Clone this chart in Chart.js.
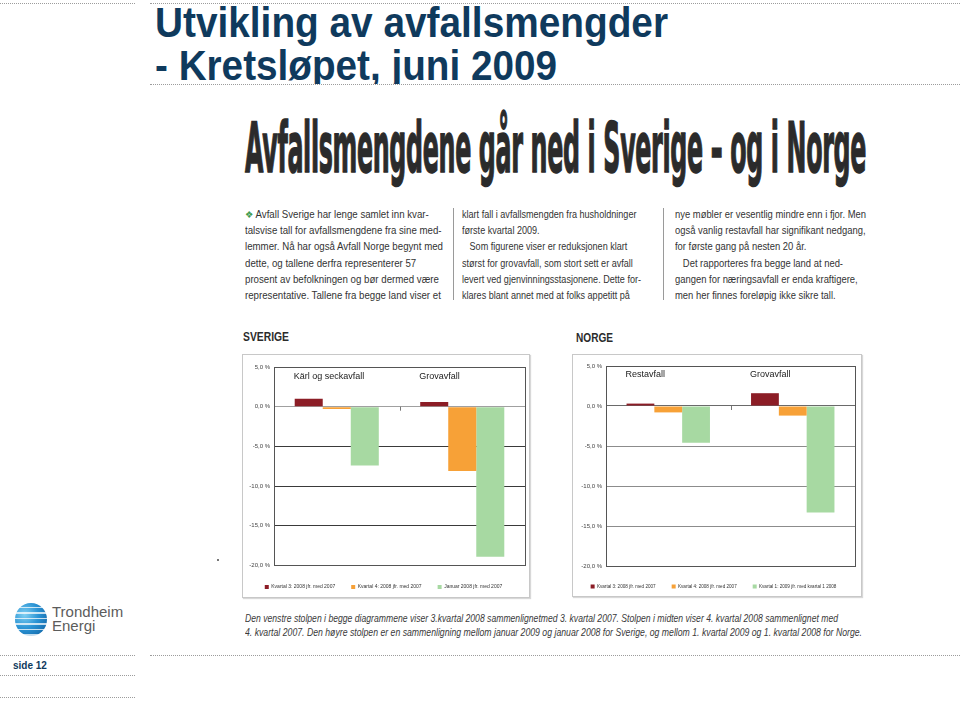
<!DOCTYPE html>
<html lang="no">
<head>
<meta charset="utf-8">
<title>Utvikling av avfallsmengder</title>
<script src="https://cdn.jsdelivr.net/npm/chart.js@4.4.1/dist/chart.umd.min.js"></script>
<style>
  html, body { margin: 0; padding: 0; background: #fff; }
  body { width: 960px; height: 707px; position: relative; overflow: hidden; font-family: "Liberation Sans", Arial, sans-serif; }
  .abs { position: absolute; }
  .dot { position: absolute; height: 0; border-top: 1px dotted #9c9c9c; }
  .fit { display: inline-block; white-space: nowrap; transform-origin: 0 0; }
  .title { position: absolute; left: 153px; top: 0; width: 807px; height: 84px; overflow: hidden; }
  .title .fit { position: absolute; left: 2px; font: bold 43px/43px "Liberation Sans", Arial, sans-serif; color: #0f3a5d; }
  .headline { left: 245px; top: 114px; font: bold 69px/69px "DejaVu Sans", sans-serif; color: #2b2b2b; -webkit-text-stroke: 1.6px #2b2b2b; letter-spacing: -1px; }
  .col { top: 207px; font: 10.4px/16.2px "Liberation Sans", Arial, sans-serif; color: #333; }
  .sep { position: absolute; top: 208px; width: 0; height: 92px; border-left: 1px solid #9a9a9a; }
  .cap { left: 245px; font: italic 10px/14px "Liberation Sans", Arial, sans-serif; color: #3a3a3a; }
  .panelhead { font: bold 13px/14px "Liberation Sans", Arial, sans-serif; color: #2b2b2b; }
  .box { position: absolute; box-sizing: border-box; border: 1px solid #c8c8c8; box-shadow: 1px 1px 1px #d8d8d8; background: #fff; }
  canvas { position: absolute; }
</style>
</head>
<body>

<!-- slide frame -->
<div class="dot" style="left:0;top:3px;width:135px"></div>
<div class="dot" style="left:150px;top:3px;width:810px"></div>
<div class="title">
  <span class="fit" data-w="513" style="top:1px">Utvikling av avfallsmengder</span>
  <span class="fit" data-w="402" style="top:44px">- Kretsløpet, juni 2009</span>
</div>
<div class="dot" style="left:150px;top:84px;width:810px"></div>

<!-- clipping -->
<span class="abs fit headline" data-w="621">Avfallsmengdene går ned i Sverige – og i Norge</span>

<div class="abs col fit" data-w="198" style="left:245px"><span style="color:#3f9b4e">❖</span> Avfall Sverige har lenge samlet inn kvar-<br>talsvise tall for avfallsmengdene fra sine med-<br>lemmer. Nå har også Avfall Norge begynt med<br>dette, og tallene derfra representerer 57<br>prosent av befolkningen og bør dermed være<br>representative. Tallene fra begge land viser et</div>
<div class="sep" style="left:453px"></div>
<div class="abs col fit" data-w="179" style="left:462px">klart fall i avfallsmengden fra husholdninger<br>første kvartal 2009.<br>&nbsp;&nbsp;&nbsp;Som figurene viser er reduksjonen klart<br>størst for grovavfall, som stort sett er avfall<br>levert ved gjenvinningsstasjonene. Dette for-<br>klares blant annet med at folks appetitt på</div>
<div class="sep" style="left:663px"></div>
<div class="abs col fit" data-w="191" style="left:675px">nye møbler er vesentlig mindre enn i fjor. Men<br>også vanlig restavfall har signifikant nedgang,<br>for første gang på nesten 20 år.<br>&nbsp;&nbsp;&nbsp;Det rapporteres fra begge land at ned-<br>gangen for næringsavfall er enda kraftigere,<br>men her finnes foreløpig ikke sikre tall.</div>

<span class="abs panelhead fit" data-w="46" style="left:243px;top:330px">SVERIGE</span>
<span class="abs panelhead fit" data-w="37" style="left:576px;top:331px">NORGE</span>

<div class="box" style="left:242px;top:354px;width:288px;height:244px"></div>
<div class="box" style="left:572px;top:354px;width:290px;height:243px"></div>
<canvas id="sverige" width="288" height="244" style="left:242px;top:354px"></canvas>
<canvas id="norge" width="290" height="243" style="left:572px;top:354px"></canvas>
<div class="abs" style="left:217px;top:559px;width:2px;height:2px;background:#777"></div>

<span class="abs cap fit" data-w="593" style="top:612px">Den venstre stolpen i begge diagrammene viser 3.kvartal 2008 sammenlignetmed 3. kvartal 2007. Stolpen i midten viser 4. kvartal 2008 sammenlignet med</span>
<span class="abs cap fit" data-w="617" style="top:626px">4. kvartal 2007. Den høyre stolpen er en sammenligning mellom januar 2009 og januar 2008 for Sverige, og mellom 1. kvartal 2009 og 1. kvartal 2008 for Norge.</span>

<!-- logo + footer -->
<div class="abs" style="left:15px;top:603px;width:32px;height:33px;border-radius:50%;background:repeating-linear-gradient(to bottom, rgba(255,255,255,0) 0 4px, rgba(255,255,255,0.75) 4px 5.5px), radial-gradient(circle at 30% 35%, #7fd0f2 0%, #2a93d4 45%, #0d5b9c 100%);"></div>
<div class="abs" style="left:52px;top:604px;font:15px/15px 'Liberation Sans',Arial,sans-serif;color:#5c5c5c">Trondheim</div>
<div class="abs" style="left:52px;top:618px;font:15px/15px 'Liberation Sans',Arial,sans-serif;color:#5c5c5c">Energi</div>
<div class="dot" style="left:0;top:655px;width:135px"></div>
<div class="dot" style="left:150px;top:655px;width:810px"></div>
<div class="abs" style="left:13px;top:660px;font:bold 10px/12px 'Liberation Sans',Arial,sans-serif;color:#0f3a5d">side 12</div>
<div class="dot" style="left:0;top:675px;width:135px"></div>
<div class="dot" style="left:0;top:697px;width:135px"></div>

<script>
// ---------- data ----------
const sverigeCategories = ['Kärl og seckavfall', 'Grovavfall'];
const norgeCategories = ['Restavfall', 'Grovavfall'];
const sverigeSeriesNames = ['Kvartal 3: 2008 jfr. med 2007', 'Kvartal 4: 2008 jfr. med 2007', 'Januar 2008 jfr. med 2007'];
const norgeSeriesNames = ['Kvartal 3: 2008 jfr. med 2007', 'Kvartal 4: 2008 jfr. med 2007', 'Kvartal 1: 2009 jfr. med kvartal 1 2008'];
const sverigeKvartal3 = [1.0, 0.6];
const sverigeKvartal4 = [-0.3, -8.1];
const sverigeJanuar = [-7.4, -18.9];
const norgeKvartal3 = [0.3, 1.6];
const norgeKvartal4 = [-0.8, -1.2];
const norgeKvartal1 = [-4.6, -13.3];
const yTickValues = [5, 0, -5, -10, -15, -20];
const yTickLabels = ['5,0 %', '0,0 %', '-5,0 %', '-10,0 %', '-15,0 %', '-20,0 %'];
const seriesColors = ['#8c1d26', '#f7a137', '#a7d9a2'];

// ---------- text fitting ----------
document.querySelectorAll('[data-w]').forEach(el => {
  const nat = el.getBoundingClientRect().width;
  const w = parseFloat(el.dataset.w);
  if (nat > 0) el.style.transform = 'scaleX(' + (w / nat) + ')';
});

// ---------- chart ----------
const FONT = "'Liberation Sans', Arial, sans-serif";
const CAT_PCT = 0.67;

const panelPlugin = {
  id: 'panel',
  afterDraw(chart, args, opts) {
    const ctx = chart.ctx, a = chart.chartArea, xs = chart.scales.x, ys = chart.scales.y;
    ctx.save();
    ctx.strokeStyle = opts.frameColor;
    ctx.lineWidth = 1;
    ctx.strokeRect(Math.round(a.left) + 0.5, Math.round(a.top) + 0.5, Math.round(a.right - a.left), Math.round(a.bottom - a.top));
    const n = chart.data.labels.length;
    const zero = ys.getPixelForValue(0);
    ctx.strokeStyle = '#777';
    for (let i = 0; i < n - 1; i++) {
      const bx = Math.round((xs.getPixelForValue(i) + xs.getPixelForValue(i + 1)) / 2) + 0.5;
      ctx.beginPath(); ctx.moveTo(bx, zero); ctx.lineTo(bx, zero + 4); ctx.stroke();
    }
    ctx.fillStyle = '#222';
    ctx.font = '9px ' + FONT;
    ctx.textBaseline = 'middle';
    ctx.textAlign = 'left';
    const catW = (a.right - a.left) / n;
    chart.data.labels.forEach((lab, i) => {
      const x = xs.getPixelForValue(i) - catW * CAT_PCT / 2;
      ctx.fillText(lab, x - 1, a.top + opts.labelOffset);
    });
    ctx.restore();
  }
};

function makeChart(id, categories, names, series, cfg) {
  return new Chart(document.getElementById(id), {
    type: 'bar',
    data: {
      labels: categories,
      datasets: series.map((vals, i) => ({
        label: names[i],
        data: vals,
        backgroundColor: seriesColors[i],
        borderWidth: 0,
        barPercentage: 1.0,
        categoryPercentage: CAT_PCT
      }))
    },
    options: {
      responsive: false,
      animation: false,
      layout: { padding: cfg.padding },
      scales: {
        x: {
          display: true,
          ticks: { display: false },
          grid: { display: false },
          border: { display: false },
          afterFit: s => { s.height = cfg.xHeight; }
        },
        y: {
          min: -20, max: 5,
          afterBuildTicks: s => { s.ticks = yTickValues.map(v => ({ value: v })); },
          afterFit: s => { s.width = cfg.yWidth; },
          ticks: {
            callback: v => yTickLabels[yTickValues.indexOf(v)],
            font: { size: 6, family: FONT },
            color: '#444',
            padding: 4
          },
          grid: {
            drawTicks: false,
            lineWidth: 1,
            color: c => (c.tick && c.tick.value === 0) ? cfg.zeroColor : cfg.gridColor
          },
          border: { display: true, color: '#555' }
        }
      },
      plugins: {
        legend: {
          position: 'bottom',
          labels: {
            boxWidth: 4, boxHeight: 4, padding: cfg.legendPad,
            font: { size: cfg.legendFont, family: FONT },
            color: '#333'
          }
        },
        tooltip: { enabled: false },
        panel: { frameColor: '#555', labelOffset: cfg.labelOffset }
      }
    },
    plugins: [panelPlugin]
  });
}

makeChart('sverige', sverigeCategories, sverigeSeriesNames,
  [sverigeKvartal3, sverigeKvartal4, sverigeJanuar],
  { padding: { top: 13, right: 5, bottom: -1.5, left: 0 }, xHeight: 3.1, yWidth: 32, legendPad: 16, legendFont: 5.0,
    gridColor: '#3a3a3a', zeroColor: '#a0a0a0', labelOffset: 10 });

makeChart('norge', norgeCategories, norgeSeriesNames,
  [norgeKvartal3, norgeKvartal4, norgeKvartal1],
  { padding: { top: 12, right: 7, bottom: -1.8, left: 0 }, xHeight: 2.2, yWidth: 34, legendPad: 16, legendFont: 4.6,
    gridColor: '#8c8c8c', zeroColor: '#6a6a6a', labelOffset: 9 });
</script>
</body>
</html>
